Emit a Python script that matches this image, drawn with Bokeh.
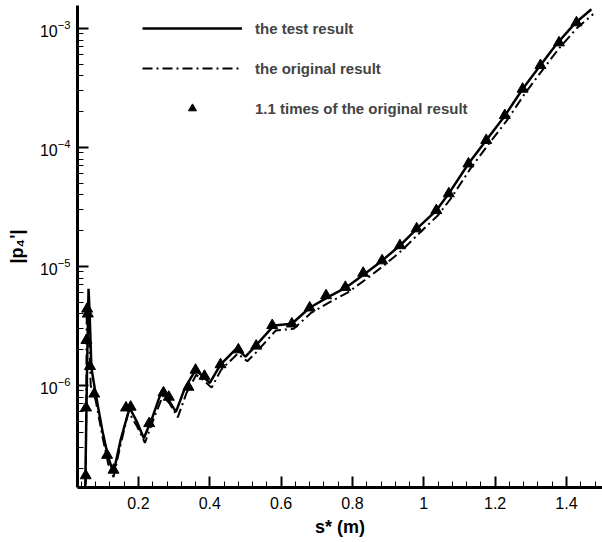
from bokeh.plotting import figure
from bokeh.models import (Legend, LegendItem, CustomJSTickFormatter, Range1d, LogTicker,
                          SingleIntervalTicker, LogTickFormatter)
from bokeh.embed import file_html
from bokeh.resources import INLINE

# the test result (solid)
test_x = [0.050, 0.056, 0.060, 0.063, 0.068, 0.080, 0.100, 0.115, 0.130, 0.150, 0.175, 0.195,
          0.215, 0.240, 0.265, 0.285, 0.305, 0.330, 0.360, 0.380, 0.400, 0.430, 0.475, 0.500,
          0.525, 0.580, 0.630, 0.680, 0.730, 0.780, 0.830, 0.883, 0.933, 0.982, 1.035, 1.070,
          1.125, 1.175, 1.228, 1.277, 1.327, 1.374, 1.423, 1.470]
test_y = [1.0e-7, 1.5e-6, 6.5e-6, 4.0e-6, 1.4e-6, 8.5e-7, 4.0e-7, 2.5e-7, 1.85e-7, 3.5e-7, 6.5e-7, 5.0e-7,
          3.6e-7, 5.5e-7, 9.0e-7, 7.5e-7, 6.0e-7, 9.5e-7, 1.35e-6, 1.2e-6, 1.05e-6, 1.5e-6, 2.05e-6, 1.75e-6,
          2.1e-6, 3.2e-6, 3.3e-6, 4.5e-6, 5.5e-6, 6.6e-6, 8.5e-6, 1.12e-5, 1.5e-5, 2.1e-5, 2.95e-5, 4.1e-5,
          7.3e-5, 1.15e-4, 1.86e-4, 3.1e-4, 4.9e-4, 7.5e-4, 1.1e-3, 1.45e-3]

# the original result (dash-dot)
orig_x = [0.052, 0.055, 0.060, 0.066, 0.080, 0.100, 0.115, 0.130, 0.150, 0.172, 0.195, 0.218,
          0.240, 0.268, 0.288, 0.310, 0.335, 0.362, 0.383, 0.405, 0.432, 0.478, 0.505, 0.530,
          0.585, 0.635, 0.685, 0.735, 0.785, 0.835, 0.888, 0.938, 0.987, 1.040, 1.075, 1.130,
          1.180, 1.233, 1.282, 1.332, 1.379, 1.428, 1.475]
orig_y = [1.0e-7, 4.2e-6, 3.8e-6, 1.0e-6, 7.5e-7, 3.6e-7, 2.2e-7, 1.7e-7, 3.2e-7, 6.0e-7, 4.6e-7, 3.3e-7,
          5.0e-7, 8.2e-7, 7.0e-7, 5.4e-7, 8.7e-7, 1.23e-6, 1.1e-6, 9.6e-7, 1.36e-6, 1.85e-6, 1.6e-6, 1.9e-6,
          2.9e-6, 3.0e-6, 4.1e-6, 5.0e-6, 6.0e-6, 7.7e-6, 1.02e-5, 1.36e-5, 1.9e-5, 2.7e-5, 3.7e-5, 6.6e-5,
          1.05e-4, 1.69e-4, 2.8e-4, 4.45e-4, 6.8e-4, 1.0e-3, 1.32e-3]

# 1.1 times of the original result (triangles)
tri_x = [0.052, 0.053, 0.054, 0.056, 0.058, 0.064, 0.076, 0.112, 0.130, 0.165, 0.178, 0.230,
         0.270, 0.285, 0.340, 0.360, 0.385, 0.430, 0.480, 0.530, 0.575, 0.630, 0.680, 0.726,
         0.780, 0.830, 0.883, 0.933, 0.980, 1.035, 1.070, 1.125, 1.175, 1.227, 1.277, 1.327,
         1.379, 1.428]
tri_y = [1.75e-7, 6.5e-7, 2.4e-6, 4.4e-6, 4.0e-6, 1.45e-6, 8.5e-7, 2.6e-7, 1.95e-7, 6.5e-7, 6.6e-7, 4.8e-7,
         8.7e-7, 8.0e-7, 9.7e-7, 1.35e-6, 1.2e-6, 1.5e-6, 2.0e-6, 2.15e-6, 3.2e-6, 3.3e-6, 4.5e-6, 5.7e-6,
         6.7e-6, 8.8e-6, 1.12e-5, 1.5e-5, 2.08e-5, 2.96e-5, 4.1e-5, 7.3e-5, 1.15e-4, 1.86e-4, 3.1e-4, 4.9e-4,
         7.6e-4, 1.12e-3]

X_MIN, X_MAX = 0.029, 1.501
Y_MIN, Y_MAX = 1.39e-7, 1.56e-3

FONT = "Liberation Sans"

p = figure(width=602, height=542, y_axis_type="log", output_backend="svg",
           toolbar_location=None,
           x_range=Range1d(X_MIN, X_MAX), y_range=Range1d(Y_MIN, Y_MAX),
           min_border_left=77, min_border_right=0, min_border_top=5, min_border_bottom=55)
p.outline_line_color = None
p.xgrid.grid_line_color = None
p.ygrid.grid_line_color = None

r_test = p.line(test_x, test_y, line_color="black", line_width=2.5)
r_orig = p.line(orig_x, orig_y, line_color="black", line_width=2, line_dash="10 4 2 4")
r_tri = p.scatter(tri_x, tri_y, marker="triangle", size=11, fill_color="black", line_color="black")

xa = p.xaxis[0]
xa.ticker = SingleIntervalTicker(interval=0.2, num_minor_ticks=5)
xa.formatter = CustomJSTickFormatter(code="""
    const v = Math.round(tick*10)/10;
    return (Math.abs(v - Math.round(v)) < 1e-9) ? String(Math.round(v)) : v.toFixed(1);
""")
ya = p.yaxis[0]
ya.ticker = LogTicker(num_minor_ticks=10)
ya.formatter = LogTickFormatter()

for ax in (xa, ya):
    ax.axis_line_color = "black"
    ax.axis_line_width = 3
    ax.major_tick_in = 11
    ax.major_tick_out = 0
    ax.major_tick_line_color = "black"
    ax.major_tick_line_width = 2
    ax.minor_tick_in = 6
    ax.minor_tick_out = 0
    ax.minor_tick_line_color = "black"
    ax.minor_tick_line_width = 1
    ax.major_label_text_font = FONT
    ax.major_label_text_font_size = "16px"
    ax.major_label_text_color = "black"
    ax.axis_label_text_font = FONT
    ax.axis_label_text_font_style = "bold"
    ax.axis_label_text_font_size = "18px"
    ax.axis_label_text_color = "black"

xa.axis_label = "s* (m)"
xa.major_label_standoff = 9
xa.axis_label_standoff = 5
ya.axis_label = "|p\u2084'|"
ya.major_label_standoff = 7
ya.axis_label_standoff = 10

legend = Legend(items=[
    LegendItem(label="the test result", renderers=[r_test]),
    LegendItem(label="the original result", renderers=[r_orig]),
    LegendItem(label="1.1 times of the original result", renderers=[r_tri]),
], location=(65, 369))
legend.glyph_width = 100
legend.glyph_height = 20
legend.spacing = 20
legend.padding = 0
legend.margin = 0
legend.label_standoff = 13
legend.label_text_font = FONT
legend.label_text_font_style = "bold"
legend.label_text_font_size = "15px"
legend.border_line_color = None
legend.background_fill_alpha = 0
p.add_layout(legend)

open("out.html", "w").write(file_html(p, INLINE))
